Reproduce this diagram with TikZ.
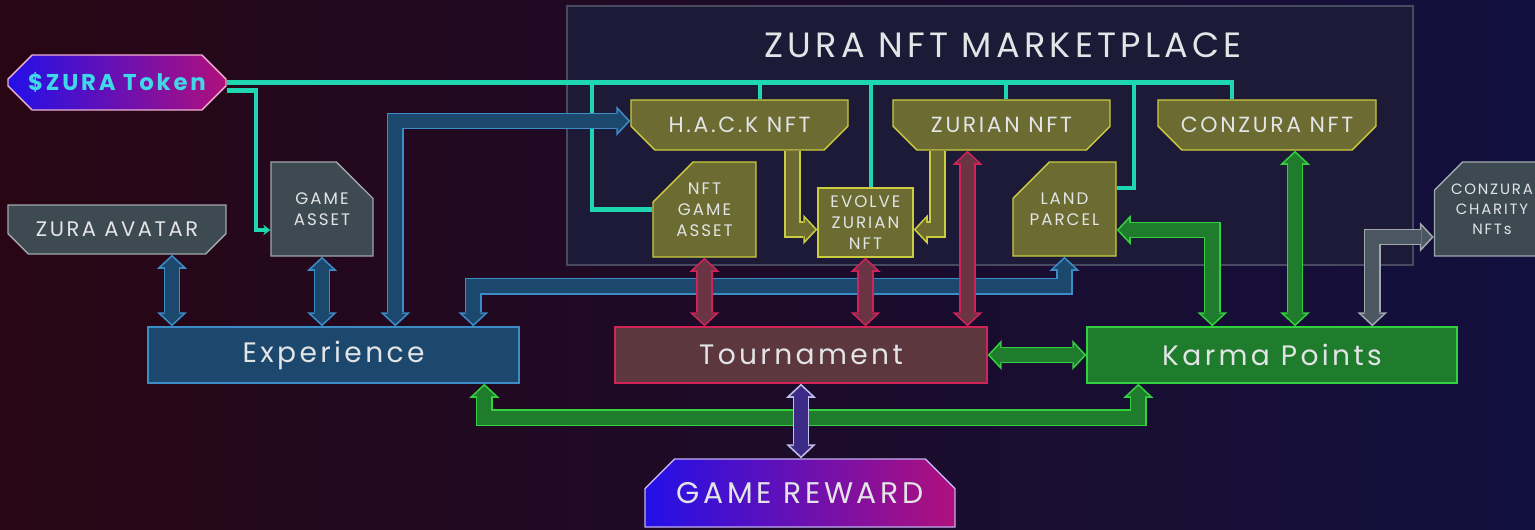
\documentclass[tikz,border=0pt]{standalone}
\usepackage{fontspec}
\setmainfont{Poppins}
\newfontfamily\widefont[LetterSpace=12]{Poppins}
\usetikzlibrary{positioning, shapes.misc, arrows.meta, calc}

\definecolor{bgleft}{RGB}{40,6,20}
\definecolor{bgmid}{RGB}{10,10,26}
\definecolor{bgright}{RGB}{18,16,62}
\definecolor{marketfill}{RGB}{28,26,54}
\definecolor{marketline}{RGB}{72,74,98}
\definecolor{textgray}{RGB}{226,228,230}
\definecolor{tokencyan}{RGB}{64,216,232}
\definecolor{busteal}{RGB}{30,214,176}
\definecolor{gradblue}{RGB}{34,16,232}
\definecolor{gradpink}{RGB}{176,16,124}
\definecolor{olivefill}{RGB}{107,107,50}
\definecolor{oliveline}{RGB}{204,204,64}
\definecolor{grayfill}{RGB}{62,74,82}
\definecolor{grayline}{RGB}{160,168,172}
\definecolor{bluefill}{RGB}{28,72,110}
\definecolor{blueline}{RGB}{60,140,200}
\definecolor{redfill}{RGB}{92,56,62}
\definecolor{redarrow}{RGB}{106,52,68}
\definecolor{redline}{RGB}{208,36,88}
\definecolor{greenfill}{RGB}{30,124,44}
\definecolor{greenline}{RGB}{52,208,64}
\definecolor{purplefill}{RGB}{60,44,136}
\definecolor{purpleline}{RGB}{192,192,232}
\definecolor{arrowgray}{RGB}{74,86,98}

\begin{document}
\begin{tikzpicture}[x=0.02cm, y=-0.02cm,
    box/.style={draw, line width=0.8pt, text=textgray, align=center, inner sep=0pt},
    chamf/.style={box, chamfered rectangle, chamfered rectangle sep=#1},
    olivebox/.style={fill=olivefill, draw=oliveline},
    graybox/.style={fill=grayfill, draw=grayline},
    gradbox/.style={left color=gradblue, right color=gradpink},
    small/.style={font=\widefont\fontsize{9.5}{12}\selectfont},
    mid/.style={font=\widefont\fontsize{12.5}{15}\selectfont},
    big/.style={font=\widefont\fontsize{16}{19}\selectfont},
    bus/.style={draw=busteal, line width=2.3pt},
    fat/.style 2 args={draw=#2, line width=7.8pt, shorten <=1.3pt, shorten >=1.3pt,
      arrows={Triangle[length=5.8pt,width=12.4pt,line width=0pt]-Triangle[length=5.8pt,width=12.4pt,line width=0pt]},
      preaction={draw=#1, line width=9.6pt, shorten <=0pt, shorten >=0pt,
        arrows={Triangle[length=8pt,width=17.1pt,line width=0pt]-Triangle[length=8pt,width=17.1pt,line width=0pt]}}},
    fatend/.style 2 args={draw=#2, line width=7.8pt, shorten >=1.3pt,
      arrows={-Triangle[length=5.8pt,width=12.4pt,line width=0pt]},
      preaction={draw=#1, line width=9.6pt, shorten >=0pt,
        arrows={-Triangle[length=8pt,width=17.1pt,line width=0pt]}}}
  ]
  % background and marketplace frame
  \useasboundingbox (0,0) rectangle (1535,529);
  \fill[left color=bgleft, middle color=bgmid, right color=bgright] (0,0) rectangle (1535,529);
  \node[draw=marketline, fill=marketfill, line width=0.8pt, minimum width=16.92cm, minimum height=5.18cm] (market) at (990,135.5) {};
  \node[text=textgray, font=\widefont\fontsize{20}{24}\selectfont] (title) at (1003,45) {ZURA NFT MARKETPLACE};

  % nodes
  \node[chamf=0.28cm, gradbox, draw={rgb,255:red,240;green,176;blue,208}, text=tokencyan, minimum width=4.36cm, minimum height=1.1cm,
        font=\widefont\bfseries\fontsize{13}{16}\selectfont] (token) at (117,82.5) {\$ZURA Token};
  \node[chamf=0.26cm, chamfered rectangle corners={south west,south east}, graybox, minimum width=4.36cm, minimum height=0.98cm,
        font=\widefont\fontsize{12}{15}\selectfont] (avatar) at (117,229.5) {ZURA AVATAR};
  \node[chamf=0.4cm, chamfered rectangle corners=north east, graybox, small, minimum width=2.04cm, minimum height=1.88cm] (gameasset) at (322,209) {GAME\\ASSET};
  \node[chamf=0.4cm, chamfered rectangle corners=north west, olivebox, small, minimum width=2.06cm, minimum height=1.9cm] (nftasset) at (704.5,209.5) {NFT\\GAME\\ASSET};
  \node[chamf=0.4cm, chamfered rectangle corners=north west, olivebox, small, minimum width=2.06cm, minimum height=1.88cm] (land) at (1064.5,209) {LAND\\PARCEL};
  \node[chamf=0.28cm, chamfered rectangle corners=north west, graybox, font=\widefont\fontsize{8.5}{11.5}\selectfont, minimum width=2.3cm, minimum height=1.88cm] (charity) at (1492,209) {CONZURA\\CHARITY\\NFTs};
  \node[chamf=0.32cm, chamfered rectangle corners={south west,south east}, olivebox, mid, minimum width=4.34cm, minimum height=1cm] (hack) at (739.5,125) {H.A.C.K NFT};
  \node[chamf=0.32cm, chamfered rectangle corners={south west,south east}, olivebox, mid, minimum width=4.34cm, minimum height=1cm] (zurian) at (1001.5,125) {ZURIAN NFT};
  \node[chamf=0.32cm, chamfered rectangle corners={south west,south east}, olivebox, mid, minimum width=4.36cm, minimum height=1cm] (conzura) at (1267,125) {CONZURA NFT};
  \node[box, olivebox, small, minimum width=1.9cm, minimum height=1.38cm] (evolve) at (865.5,222.5) {EVOLVE\\ZURIAN\\NFT};
  \node[box, fill=bluefill, draw=blueline, big, minimum width=7.42cm, minimum height=1.12cm] (exp) at (333.5,355) {Experience};
  \node[box, fill=redfill, draw=redline, big, minimum width=7.44cm, minimum height=1.12cm] (tour) at (801,355) {Tournament};
  \node[box, fill=greenfill, draw=greenline, big, minimum width=7.4cm, minimum height=1.12cm] (karma) at (1272,355) {Karma Points};
  \node[chamf=0.38cm, chamfered rectangle corners={north west,north east}, gradbox, draw={rgb,255:red,192;green,176;blue,240},
        font=\widefont\fontsize{17}{20}\selectfont, minimum width=6.2cm, minimum height=1.36cm] (reward) at (800,493) {GAME REWARD};

  % token bus
  \coordinate (tap1) at (592,82.5);
  \coordinate (tap2) at (760,82.5);
  \coordinate (tap3) at (871,82.5);
  \coordinate (tap4) at (1006,82.5);
  \coordinate (tap5) at (1134,82.5);
  \draw[bus] (token.east) -| ($(conzura.north west)+(75,0)$);
  \draw[bus] (tap1) |- (nftasset.west);
  \draw[bus] (tap2) -- (tap2 |- hack.north);
  \draw[bus] (tap3) -- (tap3 |- evolve.north);
  \draw[bus] (tap4) -- (tap4 |- zurian.north);
  \draw[bus] (tap5) |- ($(land.east)+(0,-21)$);
  \draw[bus, -{Stealth[length=4pt,width=6pt]}] ($(token.east)+(0,8)$) -| ($(gameasset.west)+(-14,21)$) -- ($(gameasset.west)+(0,21)$);

  % blue links
  \coordinate (avx) at ($(avatar.south)+(55,0)$);
  \draw[fat={blueline}{bluefill}] (avx) -- (avx |- exp.north);
  \draw[fat={blueline}{bluefill}] (gameasset.south) -- (gameasset.south |- exp.north);
  \draw[fat={blueline}{bluefill}] ($(exp.north west)+(248,0)$) |- ($(hack.west)+(0,-4)$);
  \draw[fat={blueline}{bluefill}] ($(exp.north west)+(326,0)$) -- ++(0,-40) -| (land.south);

  % red links
  \coordinate (zx) at ($(zurian.south)+(-34,0)$);
  \draw[fat={redline}{redarrow}] (nftasset.south) -- (nftasset.south |- tour.north);
  \draw[fat={redline}{redarrow}] (evolve.south) -- (evolve.south |- tour.north);
  \draw[fat={redline}{redarrow}] (zx) -- (zx |- tour.north);

  % olive links
  \draw[fatend={oliveline}{olivefill}] ($(hack.south)+(53,0)$) |- ($(evolve.west)+(0,7)$);
  \draw[fatend={oliveline}{olivefill}] ($(zurian.south)+(-64,0)$) |- ($(evolve.east)+(0,7)$);

  % green links
  \coordinate (cx) at ($(conzura.south)+(28,0)$);
  \draw[fat={greenline}{greenfill}] (tour.east) -- (karma.west);
  \draw[fat={greenline}{greenfill}] ($(karma.north west)+(126,0)$) |- ($(land.east)+(0,21)$);
  \draw[fat={greenline}{greenfill}] (cx) -- (cx |- karma.north);
  \draw[fat={greenline}{greenfill}] ($(exp.south west)+(337,0)$) -- ++(0,34) -| ($(karma.south west)+(52,0)$);

  % charity and reward links
  \draw[fat={grayline}{arrowgray}] ($(karma.north west)+(286,0)$) |- ($(charity.west)+(0,28)$);
  \draw[fat={purpleline}{purplefill}] (tour.south) -- (tour.south |- reward.north);
\end{tikzpicture}
\end{document}
